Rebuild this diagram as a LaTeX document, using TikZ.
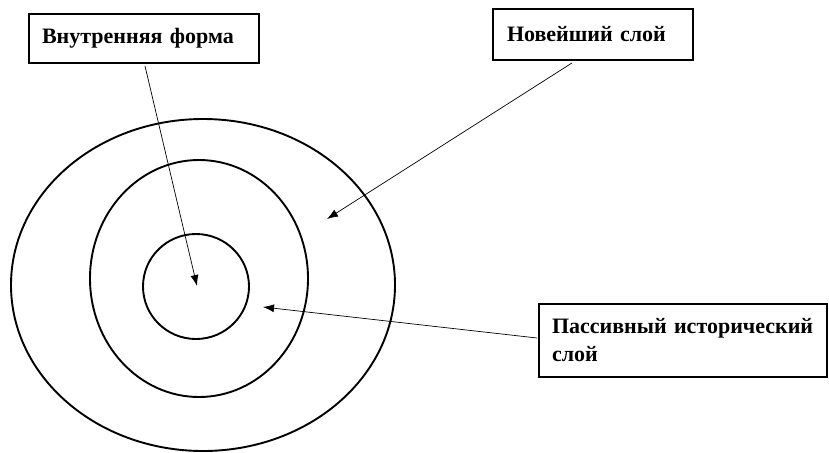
\documentclass[tikz,border=0pt]{standalone}
\usepackage{fontspec}
\setmainfont{Liberation Serif}
\usetikzlibrary{shapes.geometric,arrows.meta}
\tikzset{
  ring/.style={draw, ellipse, line width=1.9pt, inner sep=0pt},
  labelbox/.style={draw, line width=1.9pt, rectangle, align=left, inner ysep=0pt,
    font=\bfseries\fontsize{22}{28}\selectfont},
  pointer/.style={line width=0.7pt, -{Latex[length=11pt,width=8pt]}},
}
\begin{document}
\begin{tikzpicture}[x=1pt,y=-1pt]
\useasboundingbox (0,0) rectangle (829,452);
\node[ring, minimum width=384pt, minimum height=332pt] (outer) at (203,285) {};
\node[ring, minimum width=218pt, minimum height=237pt] (middle) at (199,278.5) {};
\node[ring, minimum width=106pt, minimum height=105pt] (inner) at (196,286.5) {};
\node[labelbox, minimum width=230pt, minimum height=49pt, inner xsep=13pt, text width=204pt] (b1) at (144,38.5) {Внутренняя форма};
\node[labelbox, minimum width=200pt, minimum height=51pt, inner xsep=14pt, text width=172pt] (b2) at (593,34.5) {Новейший слой};
\node[labelbox, minimum width=288pt, minimum height=73pt, inner xsep=11pt, text width=266pt] (b3) at (683,340.5) {\hspace*{2pt}Пассивный исторический\\\hspace*{2pt}слой};
\coordinate (t1) at (197,286);
\coordinate (t2) at (327,219);
\coordinate (t3) at (263,307);
\draw[pointer] ([xshift=1pt,yshift=-2pt]b1.south) -- (t1);
\draw[pointer] ([xshift=-21pt,yshift=-2pt]b2.south) -- (t2);
\draw[pointer] ([xshift=-1pt,yshift=2.5pt]b3.west) -- (t3);
\end{tikzpicture}
\end{document}
